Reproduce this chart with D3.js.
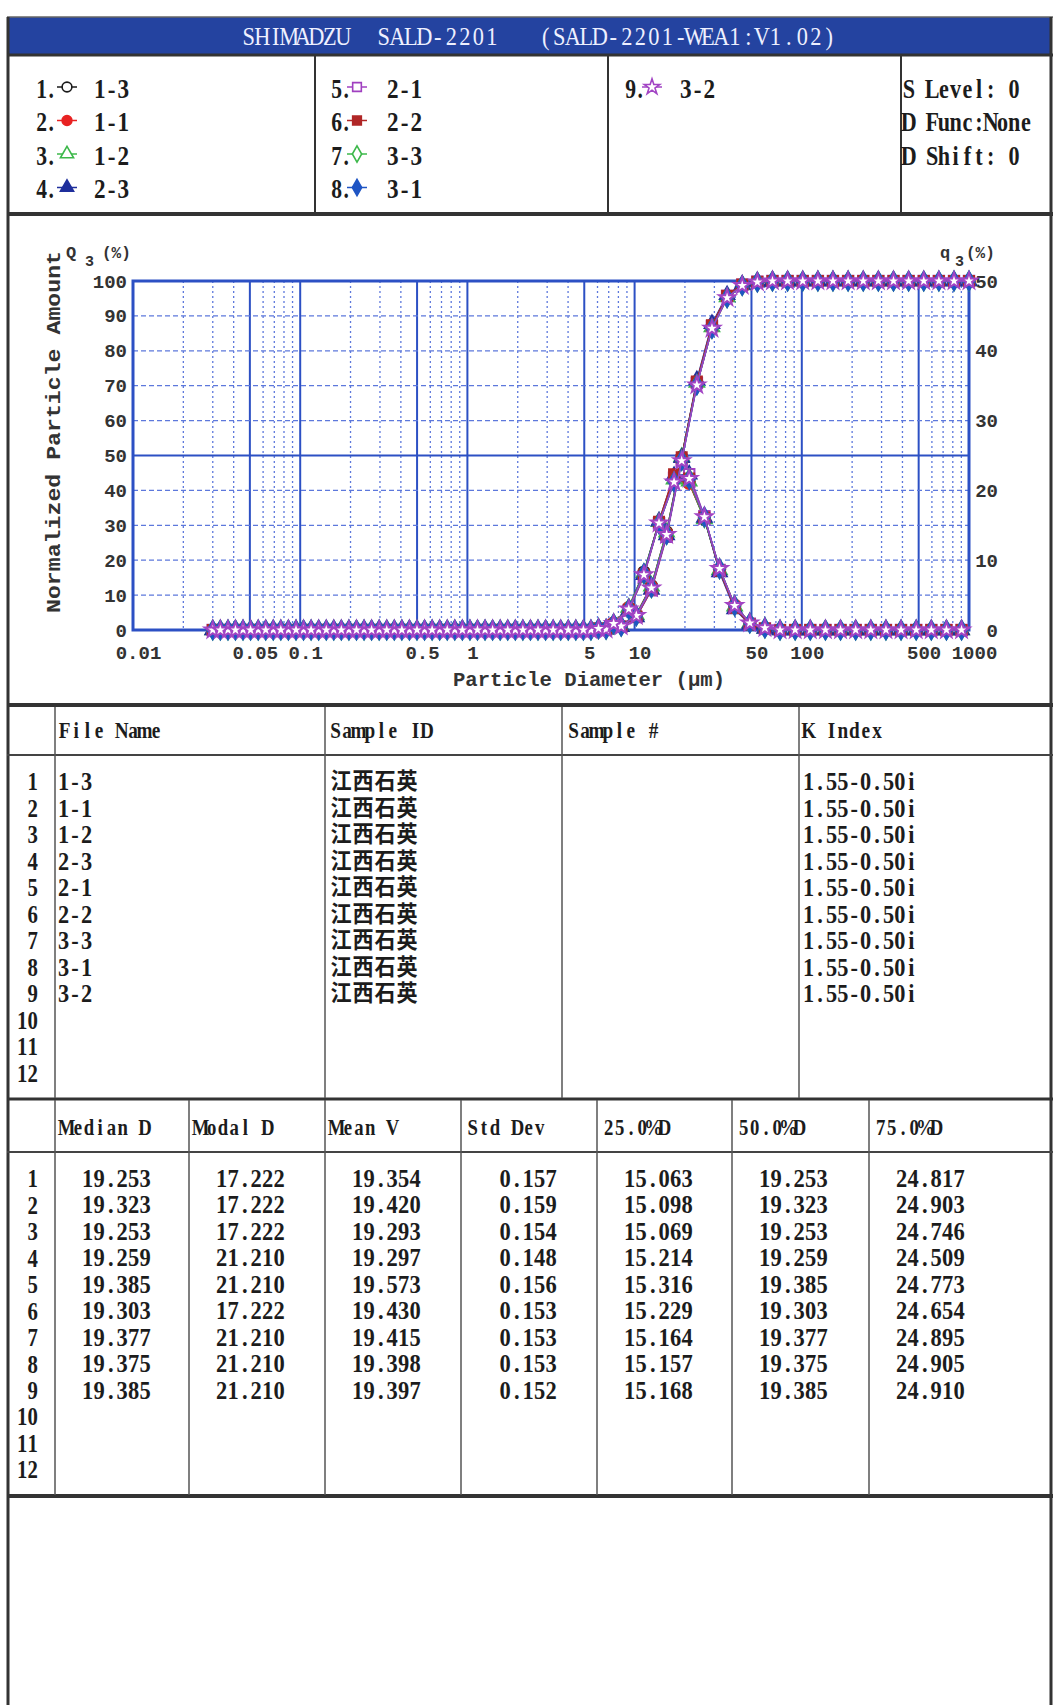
<!DOCTYPE html>
<html>
<head>
<meta charset="utf-8">
<script src="https://cdn.jsdelivr.net/npm/d3@7"></script>
<style>body{margin:0;background:#fff}</style>
</head>
<body>
<div id="chart"></div>
<script>
// particle size channels (um): boundaries carry Q3, channel centres carry q3
const sizesCum = [0.0300,0.0370,0.0455,0.0561,0.0690,0.0850,0.1047,0.1290,0.1588,0.1956,0.2409,0.2967,0.3654,0.4501,0.5543,0.6827,0.8408,1.036,1.275,1.571,1.935,2.383,2.935,3.614,4.451,5.482,6.752,8.316,10.24,12.61,15.54,19.13,23.57,29.02,35.75,44.02,54.22,66.78,82.24,101.3,124.8,153.6,189.2,233.1,287.0,353.5,435.4,536.2,660.4,813.4,1000];
const sizesFreq = [0.0333,0.0410,0.0505,0.0622,0.0766,0.0944,0.1162,0.1432,0.1762,0.2171,0.2673,0.3293,0.4055,0.4995,0.6152,0.7576,0.9331,1.149,1.415,1.743,2.147,2.644,3.257,4.011,4.940,6.084,7.493,9.229,11.37,14.00,17.22,21.21,26.15,32.21,39.67,48.86,60.17,74.11,91.27,112.4,138.5,170.5,210.0,258.7,318.6,392.3,483.2,595.1,732.9,902.7];

// cumulative Q3 (%) per sample
const cum1 = [0,0,0,0,0, 0,0,0,0,0, 0,0,0,0,0, 0,0,0,0,0, 0,0,0,0,0, 0, 0.2,1.2,4.4,12.7,28.1,49.6,70.7,86.6,95.3,98.7,99.7, 100,100,100,100,100,100,100,100,100,100,100,100,100,100];
const cum2 = [0,0,0,0,0, 0,0,0,0,0, 0,0,0,0,0, 0,0,0,0,0, 0,0,0,0,0, 0, 0.2,1.2,4.4,12.5,27.8,49.3,70.3,86.4,95.1,98.7,99.7, 100,100,100,100,100,100,100,100,100,100,100,100,100,100];
const cum3 = [0,0,0,0,0, 0,0,0,0,0, 0,0,0,0,0, 0,0,0,0,0, 0,0,0,0,0, 0, 0.2,1.1,4.3,12.5,28.0,49.6,70.9,86.8,95.4,98.8,99.8, 100,100,100,100,100,100,100,100,100,100,100,100,100,100];
const cum4 = [0,0,0,0,0, 0,0,0,0,0, 0,0,0,0,0, 0,0,0,0,0, 0,0,0,0,0, 0, 0.2,0.9,3.7,11.6,27.2,49.3,71.6,87.7,96.0,99.0,99.8, 100,100,100,100,100,100,100,100,100,100,100,100,100,100];
const cum5 = [0,0,0,0,0, 0,0,0,0,0, 0,0,0,0,0, 0,0,0,0,0, 0,0,0,0,0, 0, 0.2,0.9,3.7,11.4,26.7,48.5,70.8,87.1,95.7,98.9,99.8, 100,100,100,100,100,100,100,100,100,100,100,100,100,100];
const cum6 = [0,0,0,0,0, 0,0,0,0,0, 0,0,0,0,0, 0,0,0,0,0, 0,0,0,0,0, 0, 0.2,0.9,3.8,11.7,27.2,49.5,71.2,87.3,95.8,99.0,99.8, 100,100,100,100,100,100,100,100,100,100,100,100,100,100];
const cum7 = [0,0,0,0,0, 0,0,0,0,0, 0,0,0,0,0, 0,0,0,0,0, 0,0,0,0,0, 0, 0.2,1.1,4.1,12.1,27.4,48.6,70.3,86.4,95.2,98.7,99.7, 100,100,100,100,100,100,100,100,100,100,100,100,100,100];
const cum8 = [0,0,0,0,0, 0,0,0,0,0, 0,0,0,0,0, 0,0,0,0,0, 0,0,0,0,0, 0, 0.2,1.1,4.1,12.2,27.4,48.6,70.2,86.4,95.2,98.7,99.7, 100,100,100,100,100,100,100,100,100,100,100,100,100,100];
const cum9 = [0,0,0,0,0, 0,0,0,0,0, 0,0,0,0,0, 0,0,0,0,0, 0,0,0,0,0, 0, 0.2,1.1,4.1,12.0,27.3,48.5,70.2,86.4,95.2,98.7,99.7, 100,100,100,100,100,100,100,100,100,100,100,100,100,100];

// frequency q3 (%) per sample
const freq1 = [0,0,0,0,0, 0,0,0,0,0, 0,0,0,0,0, 0,0,0,0,0, 0,0,0,0,0, 0.2,1.0,3.2,8.3,15.4,21.5,21.1,15.9,8.7,3.4,1.0,0.3, 0,0,0,0,0, 0,0,0,0,0, 0,0,0];
const freq2 = [0,0,0,0,0, 0,0,0,0,0, 0,0,0,0,0, 0,0,0,0,0, 0,0,0,0,0, 0.2,1.0,3.2,8.1,15.3,21.5,21.0,16.1,8.7,3.6,1.0,0.3, 0,0,0,0,0, 0,0,0,0,0, 0,0,0];
const freq3 = [0,0,0,0,0, 0,0,0,0,0, 0,0,0,0,0, 0,0,0,0,0, 0,0,0,0,0, 0.2,0.9,3.2,8.2,15.5,21.6,21.3,15.9,8.6,3.4,1.0,0.2, 0,0,0,0,0, 0,0,0,0,0, 0,0,0];
const freq4 = [0,0,0,0,0, 0,0,0,0,0, 0,0,0,0,0, 0,0,0,0,0, 0,0,0,0,0, 0.2,0.7,2.8,7.9,15.6,22.1,22.3,16.1,8.3,3.0,0.8,0.2, 0,0,0,0,0, 0,0,0,0,0, 0,0,0];
const freq5 = [0,0,0,0,0, 0,0,0,0,0, 0,0,0,0,0, 0,0,0,0,0, 0,0,0,0,0, 0.2,0.7,2.8,7.7,15.3,21.8,22.3,16.3,8.6,3.2,0.9,0.2, 0,0,0,0,0, 0,0,0,0,0, 0,0,0];
const freq6 = [0,0,0,0,0, 0,0,0,0,0, 0,0,0,0,0, 0,0,0,0,0, 0,0,0,0,0, 0.2,0.7,2.9,7.9,15.5,22.3,21.7,16.1,8.5,3.2,0.8,0.2, 0,0,0,0,0, 0,0,0,0,0, 0,0,0];
const freq7 = [0,0,0,0,0, 0,0,0,0,0, 0,0,0,0,0, 0,0,0,0,0, 0,0,0,0,0, 0.2,0.9,3.0,8.0,15.3,21.2,21.7,16.1,8.8,3.5,1.0,0.3, 0,0,0,0,0, 0,0,0,0,0, 0,0,0];
const freq8 = [0,0,0,0,0, 0,0,0,0,0, 0,0,0,0,0, 0,0,0,0,0, 0,0,0,0,0, 0.2,0.9,3.0,8.1,15.2,21.2,21.6,16.2,8.8,3.5,1.0,0.3, 0,0,0,0,0, 0,0,0,0,0, 0,0,0];
const freq9 = [0,0,0,0,0, 0,0,0,0,0, 0,0,0,0,0, 0,0,0,0,0, 0,0,0,0,0, 0.2,0.9,3.0,7.9,15.3,21.2,21.7,16.2,8.8,3.5,1.0,0.3, 0,0,0,0,0, 0,0,0,0,0, 0,0,0];

const cumData = [cum1,cum2,cum3,cum4,cum5,cum6,cum7,cum8,cum9];
const freqData = [freq1,freq2,freq3,freq4,freq5,freq6,freq7,freq8,freq9];

const fileNames = ["1-3","1-1","1-2","2-3","2-1","2-2","3-3","3-1","3-2"];
const sampleIds = ["江西石英","江西石英","江西石英","江西石英","江西石英","江西石英","江西石英","江西石英","江西石英"];
const kIndex = ["1.55-0.50i","1.55-0.50i","1.55-0.50i","1.55-0.50i","1.55-0.50i","1.55-0.50i","1.55-0.50i","1.55-0.50i","1.55-0.50i"];
const medianD = ["19.253","19.323","19.253","19.259","19.385","19.303","19.377","19.375","19.385"];
const modalD = ["17.222","17.222","17.222","21.210","21.210","17.222","21.210","21.210","21.210"];
const meanV = ["19.354","19.420","19.293","19.297","19.573","19.430","19.415","19.398","19.397"];
const stdDev = ["0.157","0.159","0.154","0.148","0.156","0.153","0.153","0.153","0.152"];
const d25 = ["15.063","15.098","15.069","15.214","15.316","15.229","15.164","15.157","15.168"];
const d50 = ["19.253","19.323","19.253","19.259","19.385","19.303","19.377","19.375","19.385"];
const d75 = ["24.817","24.903","24.746","24.509","24.773","24.654","24.895","24.905","24.910"];

const xTickVals = [0.01,0.05,0.1,0.5,1,5,10,50,100,500,1000];
const xTickLabels = ["0.01","0.05","0.1","0.5","1","5","10","50","100","500","1000"];
const leftTicks = [0,10,20,30,40,50,60,70,80,90,100];
const rightTicks = [0,10,20,30,40,50];
const settings = ["S Level: 0","D Func:None","D Shift: 0"];

// styles
const seriesColors = ["#1a1a1a","#e82222","#3cb84a","#1f2f9c","#a040c0","#b02626","#3cb84a","#1f55c4","#a244c4"];
const seriesShapes = [d3.symbolCircle,d3.symbolCircle,d3.symbolTriangle,d3.symbolTriangle,d3.symbolSquare,d3.symbolSquare,d3.symbolDiamond,d3.symbolDiamond,d3.symbolStar];
const seriesFilled = [false,true,false,true,false,true,false,true,false];
const seriesSizes = [100,100,90,90,110,100,100,100,80];

const serif = "'Liberation Serif','Noto Sans CJK SC',serif";
const monoFont = "'Liberation Mono','DejaVu Sans Mono',monospace";
const ink = "#1c1c1c";
const blue = "#2c50c4";
const blueLight = "#5d78dc";

const svg = d3.select("#chart").append("svg")
    .attr("width", 1056).attr("height", 1705);

// fixed-cell text, like the instrument printout
function mono(parent, str, x, y, o) {
  const cell = o.cell, sx = o.sx;
  const chars = Array.from(str);
  let pos = 0;
  const centers = [];
  chars.forEach(c => {
    const n = c.codePointAt(0) > 0x2e80 ? 2 : 1;
    centers.push((pos + n / 2) * cell);
    pos += n;
  });
  const w = pos * cell;
  const x0 = o.anchor === "end" ? x - w : (o.anchor === "middle" ? x - w / 2 : x);
  const g = parent.append("g").attr("transform", `translate(${x0},${y}) scale(${sx},1)`);
  g.append("text")
      .attr("x", centers.map(c => (c / sx).toFixed(2)).join(" "))
      .attr("y", 0)
      .attr("dy", "0.36em")
      .attr("text-anchor", "middle")
      .attr("font-family", o.family || serif)
      .attr("font-size", o.size)
      .attr("font-weight", o.weight || "bold")
      .attr("fill", o.fill || ink)
      .text(str.replace(/ /g, "\u00a0"));
}

function hline(y, w, c) {
  svg.append("line").attr("x1", 7).attr("x2", 1053).attr("y1", y).attr("y2", y)
      .attr("stroke", c || "#333").attr("stroke-width", w);
}
function vline(x, y1, y2, w, c) {
  svg.append("line").attr("x1", x).attr("x2", x).attr("y1", y1).attr("y2", y2)
      .attr("stroke", c || "#444").attr("stroke-width", w);
}

// ---- title bar
svg.append("rect").attr("x", 8).attr("y", 17).attr("width", 1044).attr("height", 38).attr("fill", "#2443a0");
hline(17, 1.5, "#666");
mono(svg, "SHIMADZU  SALD-2201   (SALD-2201-WEA1:V1.02)", 242, 36, {cell: 13.5, size: 26, sx: 0.86, fill: "#eef0ff", weight: "normal"});

// ---- panel frame
vline(8, 17, 1705, 3, "#333");
vline(1051, 17, 1705, 3, "#333");
hline(55, 3);
hline(214, 4);
hline(705, 4);
hline(755, 2, "#444");
hline(1099, 3);
hline(1152, 2, "#444");
hline(1496, 4);
[315, 608, 901].forEach(x => vline(x, 55, 214, 2, "#333"));
[55, 325, 562, 799].forEach(x => vline(x, 707, 1098, 1.5, "#555"));
[55, 189, 325, 461, 597, 732, 869].forEach(x => vline(x, 1100, 1495, 1.5, "#555"));

// ---- legend
const legRows = [87, 120.5, 154, 187.5];
const legCols = [{n: 37, s: 67, l: 94}, {n: 332, s: 357, l: 387}, {n: 626, s: 652, l: 680}];
fileNames.forEach((name, i) => {
  const col = legCols[Math.floor(i / 4)], y = legRows[i % 4];
  mono(svg, (i + 1) + ".", col.n, y + 1, {cell: 9.5, size: 27, sx: 0.8});
  svg.append("line").attr("x1", col.s - 10).attr("x2", col.s + 10).attr("y1", y).attr("y2", y)
      .attr("stroke", seriesColors[i]).attr("stroke-width", 1.5);
  svg.append("path").attr("transform", `translate(${col.s},${y})`)
      .attr("d", d3.symbol(seriesShapes[i], 75)())
      .attr("fill", seriesFilled[i] ? seriesColors[i] : "#fff")
      .attr("stroke", seriesColors[i]).attr("stroke-width", 1.6);
  mono(svg, name, col.l, y + 1, {cell: 11.7, size: 27, sx: 0.86});
});
settings.forEach((s, i) => mono(svg, s, 903, legRows[i] + 1, {cell: 11.7, size: 27, sx: 0.82}));

// ---- chart
const x = d3.scaleLog().domain([0.01, 1000]).range([133, 969]);
const yL = d3.scaleLinear().domain([0, 100]).range([630, 281]);
const yR = d3.scaleLinear().domain([0, 50]).range([630, 281]);

const grid = svg.append("g");
x.ticks().filter(v => v > 0.01 && v < 1000).forEach(v => {
  const lead = Math.round(v / Math.pow(10, Math.floor(Math.log10(v) + 1e-9)));
  const major = lead === 1 || lead === 5;
  grid.append("line").attr("x1", x(v)).attr("x2", x(v)).attr("y1", yL(100)).attr("y2", yL(0))
      .attr("stroke", major ? blue : blueLight)
      .attr("stroke-width", major ? 2 : 1.3)
      .attr("stroke-dasharray", major ? null : "2,3");
});
leftTicks.filter(v => v > 0 && v < 100).forEach(v => {
  const major = v === 50;
  grid.append("line").attr("x1", x(0.01)).attr("x2", x(1000)).attr("y1", yL(v)).attr("y2", yL(v))
      .attr("stroke", major ? blue : blueLight)
      .attr("stroke-width", major ? 2 : 1.3)
      .attr("stroke-dasharray", major ? null : "5,3");
});
grid.append("rect").attr("x", x(0.01)).attr("y", yL(100))
    .attr("width", x(1000) - x(0.01)).attr("height", yL(0) - yL(100))
    .attr("fill", "none").attr("stroke", blue).attr("stroke-width", 3);

function styleAxis(g) {
  g.select(".domain").remove();
  g.attr("font-family", monoFont).attr("font-size", 19).attr("font-weight", "bold");
  g.selectAll("text").attr("fill", "#333");
}
svg.append("g").attr("transform", "translate(133,0)")
    .call(d3.axisLeft(yL).tickValues(leftTicks).tickSize(0).tickPadding(6))
    .call(styleAxis);
svg.append("g").attr("transform", "translate(998,0)")
    .call(d3.axisLeft(yR).tickValues(rightTicks).tickSize(0).tickPadding(0))
    .call(styleAxis);
svg.append("g").attr("transform", "translate(5,652)")
    .call(d3.axisBottom(x).tickValues(xTickVals).tickFormat((d, i) => xTickLabels[i]).tickSize(0).tickPadding(0))
    .call(styleAxis)
    .call(g => g.selectAll("text").attr("y", 0).attr("dy", "0.35em"));

// axis titles
const lab = {"font-family": monoFont, "font-weight": "bold", fill: "#333"};
function label(txt, x0, y0, size, extra) {
  const t = svg.append("text").attr("x", x0).attr("y", y0).attr("font-size", size).text(txt);
  Object.entries(lab).forEach(([k, v]) => t.attr(k, v));
  if (extra) extra(t);
  return t;
}
label("Particle Diameter (μm)", 589, 686, 20, t => t.attr("text-anchor", "middle").attr("textLength", 272).attr("lengthAdjust", "spacingAndGlyphs"));
label("Normalized Particle Amount", 0, 0, 21, t => t.attr("text-anchor", "middle")
    .attr("transform", "translate(60,432) rotate(-90)").attr("textLength", 362).attr("lengthAdjust", "spacingAndGlyphs"));
label("Q", 66, 258, 17);
label("3", 85, 266, 15);
label("(%)", 102, 258, 16);
label("q", 940, 258, 17);
label("3", 955, 266, 15);
label("(%)", 966, 258, 16);

// series
const plot = svg.append("g");
cumData.forEach((cum, s) => {
  const freq = freqData[s];
  const c = seriesColors[s];
  plot.append("path").datum(cum)
      .attr("d", d3.line().x((d, i) => x(sizesCum[i])).y(d => yL(d)))
      .attr("fill", "none").attr("stroke", c).attr("stroke-width", 1.5);
  plot.append("path").datum(freq)
      .attr("d", d3.line().x((d, i) => x(sizesFreq[i])).y(d => yR(d)))
      .attr("fill", "none").attr("stroke", c).attr("stroke-width", 1.5);
  const sym = d3.symbol(seriesShapes[s], seriesSizes[s])();
  const fill = seriesFilled[s] ? c : "#fff";
  plot.append("g").selectAll("path").data(cum).join("path")
      .attr("transform", (d, i) => `translate(${x(sizesCum[i])},${yL(d)})`)
      .attr("d", sym).attr("fill", fill).attr("stroke", c).attr("stroke-width", 2);
  plot.append("g").selectAll("path").data(freq).join("path")
      .attr("transform", (d, i) => `translate(${x(sizesFreq[i])},${yR(d)})`)
      .attr("d", sym).attr("fill", fill).attr("stroke", c).attr("stroke-width", 2);
});

// ---- table 1
const t1Heads = ["File Name", "Sample ID", "Sample #", "K Index"];
const t1X = [59, 330, 568, 803];
t1Heads.forEach((h, i) => mono(svg, h, t1X[i], 729, {cell: 11.4, size: 24, sx: 0.8}));
d3.range(1, 13).forEach((n, i) => {
  const y = 781 + i * 26.5;
  mono(svg, String(n), 38, y, {cell: 10.5, size: 26, sx: 0.8, anchor: "end"});
  if (i < fileNames.length) {
    mono(svg, fileNames[i], 58, y, {cell: 11.4, size: 26, sx: 0.86});
    mono(svg, sampleIds[i], 330, y, {cell: 11, size: 23, sx: 0.92});
    mono(svg, kIndex[i], 803, y, {cell: 11.4, size: 26, sx: 0.86});
  }
});

// ---- table 2
const t2Heads = ["Median D", "Modal D", "Mean V", "Std Dev", "25.0%D", "50.0%D", "75.0%D"];
const t2Cols = [55, 189, 325, 461, 597, 732, 869];
const t2Data = [medianD, modalD, meanV, stdDev, d25, d50, d75];
t2Heads.forEach((h, i) => mono(svg, h, t2Cols[i] + 6, 1126, {cell: 11.2, size: 24, sx: 0.78}));
d3.range(1, 13).forEach((n, i) => {
  const y = 1178 + i * 26.45;
  mono(svg, String(n), 38, y, {cell: 10.5, size: 26, sx: 0.8, anchor: "end"});
  t2Data.forEach((col, j) => {
    if (i < col.length) mono(svg, col[i], t2Cols[j] + 96, y, {cell: 11.5, size: 25, sx: 0.9, anchor: "end"});
  });
});
</script>
</body>
</html>
